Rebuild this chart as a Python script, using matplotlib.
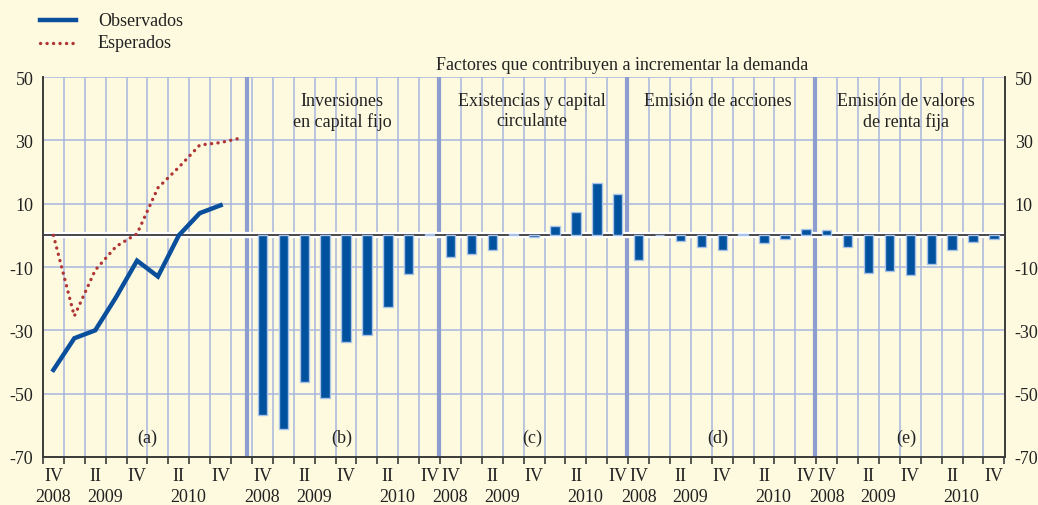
import matplotlib
matplotlib.use('Agg')
import matplotlib.pyplot as plt
import matplotlib.transforms as mtrans
from matplotlib.lines import Line2D
import numpy as np

plt.rcParams['font.family'] = ['Liberation Serif', 'DejaVu Serif']
plt.rcParams['font.size'] = 13
plt.rcParams['axes.unicode_minus'] = False

# panel (a): demand indicator, observed and expected
observados = [-42.5, -32.5, -30, -19.5, -8, -13, 0, 7, 9.5]
esperados = [0, -25.5, -11, -3.5, 0.5, 15, 21.5, 28.5, 29.3, 30.8]

# panels (b)-(e): contributing factors, IV 2008 .. IV 2010
inversiones = [-56.6, -61.3, -46.3, -51.3, -33.7, -31.6, -22.6, -12.3, 0.4]
existencias = [-6.9, -5.8, -4.5, 0.3, -0.6, 3.0, 7.5, 16.6, 13.2]
acciones = [-7.7, 0.2, -1.9, -3.8, -4.6, 0.3, -2.4, -1.0, 2.1]
renta_fija = [1.7, -3.8, -11.9, -11.4, -12.4, -9.2, -4.6, -2.0, -1.0]

panel_titles = ['Inversiones\nen capital fijo', 'Existencias y capital\ncirculante',
                'Emisión de acciones', 'Emisión de valores\nde renta fija']
panel_letters = ['(a)', '(b)', '(c)', '(d)', '(e)']
quarter_labels = ['IV', 'II', 'IV', 'II', 'IV']
year_labels = ['2008', '2009', '', '2010', '']

bg = '#fefadf'
grid_c = '#a9b5de'
sep_c = '#8d9dd0'
bar_c = '#00519e'
bar_edge = '#a9c2ea'
dark = '#3a3a3a'
txt = '#222222'

fig = plt.figure(figsize=(10.38, 5.06), dpi=100, facecolor=bg)
ax = fig.add_axes([0.0414, 0.0949, 0.9268, 0.7509])
ax.set_facecolor(bg)

# slot layout: panel a has 10 slots, b-e 9 slots each
starts = [0, 10, 19, 28, 37]
seps = [9.27, 18.45, 27.45, 36.45]
centers = [4.5, 13.8, 22.9, 31.8, 40.8]
ax.set_xlim(-0.43, 45.53)
ax.set_ylim(-70, 50)

# grid
for k in range(45):
    ax.axvline(k + 0.5, color=grid_c, lw=1.1, zorder=1)
for y in [-50, -30, -10, 10, 30, 50]:
    ax.axhline(y, color=grid_c, lw=1.1, zorder=1)
for s in seps:
    ax.axvline(s, color=sep_c, lw=3, zorder=1.5)

# zero line with a white halo
ax.axhline(0, color='white', lw=4.5, zorder=2)
ax.axhline(0, color=dark, lw=1.3, zorder=2.1)

# bars
for start, vals in zip(starts[1:], [inversiones, existencias, acciones, renta_fija]):
    x = start + np.arange(len(vals))
    ax.bar(x, vals, width=0.45, color=bar_c, edgecolor=bar_edge, linewidth=1.0, zorder=3)

# lines in panel (a)
ax.plot(np.arange(len(observados)), observados, color='#0a4f9c', lw=3.2,
        solid_joinstyle='miter', zorder=4)
ax.plot(np.arange(len(esperados)), esperados, color='#b03636', lw=2.4,
        linestyle=(0, (0.05, 1.9)), dash_capstyle='round', zorder=4)

# spines and ticks
for side in ['left', 'right', 'bottom']:
    ax.spines[side].set_color(dark)
    ax.spines[side].set_linewidth(1.4)
ax.spines['top'].set_visible(False)
ax.set_yticks([-70, -50, -30, -10, 10, 30, 50])
ax.tick_params(axis='y', length=0, pad=7, labelsize=13, labelright=True, colors=txt)
ax.set_xticks(np.arange(-0.5, 45.6, 1.0))
ax.set_xticklabels([])
ax.tick_params(axis='x', length=5, width=1.2, color=dark, direction='out')

# quarter and year labels
tr = mtrans.blended_transform_factory(ax.transData, ax.transAxes)
for p, start in enumerate(starts):
    for j, (q, yr) in enumerate(zip(quarter_labels, year_labels)):
        k = start + 2 * j
        ax.text(k, -0.05, q, transform=tr, ha='center', va='center', color=txt)
        if yr:
            off = 0 if yr == '2008' else 0.45
            ax.text(k + off, -0.105, yr, transform=tr, ha='center', va='center', color=txt)

# panel texts
for c, lab in zip(centers, panel_letters):
    ax.text(c, -63.8, lab, ha='center', va='center', color=txt, zorder=5)
for c, t in zip(centers[1:], panel_titles):
    ax.text(c, 45.3, t, ha='center', va='top', color=txt, linespacing=1.25, zorder=5)

fig.text(0.599, 0.8696, 'Factores que contribuyen a incrementar la demanda',
         ha='center', va='center', color=txt)

# legend drawn in figure coordinates
fig.add_artist(Line2D([40 / 1038, 76 / 1038], [1 - 21 / 506] * 2, color='#0a4f9c', lw=3.2))
fig.add_artist(Line2D([40 / 1038, 76 / 1038], [1 - 44 / 506] * 2, color='#b03636', lw=2.4,
                      linestyle=(0, (0.05, 1.9)), dash_capstyle='round'))
fig.text(98 / 1038, 1 - 21 / 506, 'Observados', ha='left', va='center', color=txt)
fig.text(98 / 1038, 1 - 44 / 506, 'Esperados', ha='left', va='center', color=txt)

fig.savefig('out.png', dpi=100, facecolor=bg)
